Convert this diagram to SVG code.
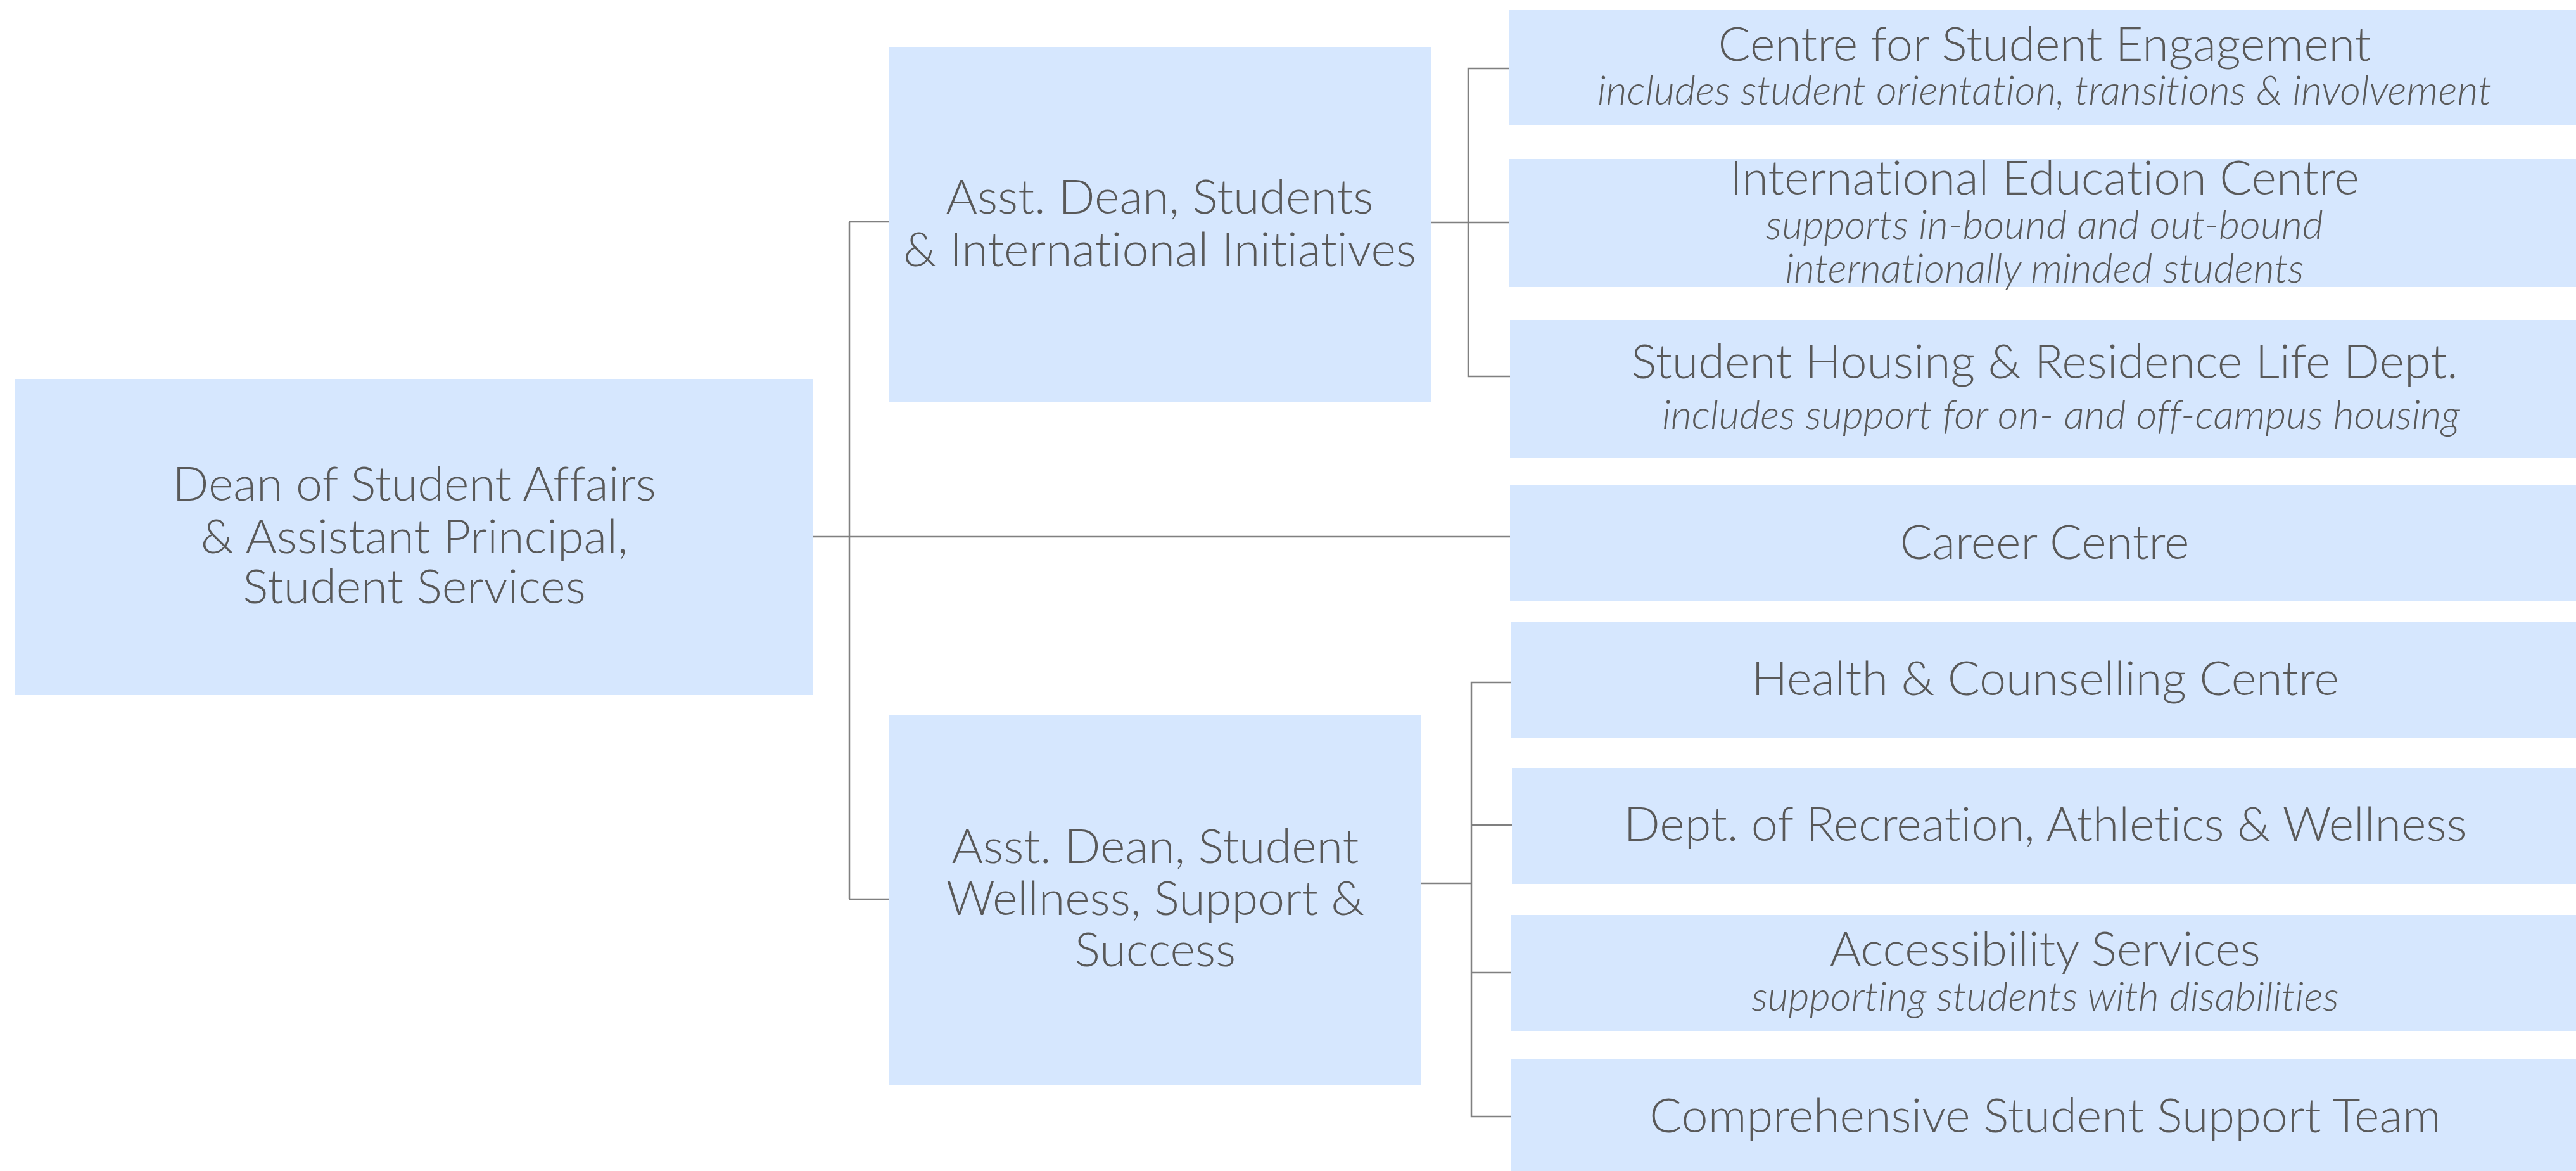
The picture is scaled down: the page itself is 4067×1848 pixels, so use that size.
<svg xmlns="http://www.w3.org/2000/svg" width="4067" height="1848" viewBox="0 0 4067 1848">
<style>
.box{fill:#d6e7fe}
.t{font-family:Lato,"Liberation Sans",sans-serif;font-weight:300;fill:#595959;text-anchor:middle;font-variant-ligatures:none}
.m{font-size:75.5px}
.s{font-size:64px;font-style:italic}
.c{stroke:#808080;stroke-width:2.5;fill:none}
</style>
<rect width="4067" height="1848" fill="#ffffff"/>
<g id="connectors">
<path class="c" d="M1283,847 H2384"/>
<path class="c" d="M1341,350 V1419"/>
<path class="c" d="M1341,350 H1404"/>
<path class="c" d="M1341,1419 H1404"/>
<path class="c" d="M2259,351 H2318"/>
<path class="c" d="M2382,108 H2318 V594 H2384"/>
<path class="c" d="M2318,351 H2382"/>
<path class="c" d="M2244,1394 H2323"/>
<path class="c" d="M2386,1077 H2323 V1762 H2386"/>
<path class="c" d="M2323,1302 H2387"/>
<path class="c" d="M2323,1535 H2386"/>
</g>
<g id="dean">
<rect class="box" x="23" y="598" width="1260" height="499"/>
<text class="t m" x="654" y="790">Dean of Student Affairs</text>
<text class="t m" x="654" y="873">&amp; Assistant Principal,</text>
<text class="t m" x="654" y="952">Student Services</text>
</g>
<g id="asst-dean-students">
<rect class="box" x="1404" y="74" width="855" height="560"/>
<text class="t m" x="1831" y="337">Asst. Dean, Students</text>
<text class="t m" x="1831" y="420">&amp; International Initiatives</text>
</g>
<g id="asst-dean-wellness">
<rect class="box" x="1404" y="1128" width="840" height="584"/>
<text class="t m" x="1824" y="1362">Asst. Dean, Student</text>
<text class="t m" x="1824" y="1444">Wellness, Support &amp;</text>
<text class="t m" x="1824" y="1525">Success</text>
</g>
<g id="cse">
<rect class="box" x="2382" y="15" width="1700" height="182"/>
<text class="t m" x="3228" y="96">Centre for Student Engagement</text>
<text class="t s" x="3228" y="165">includes student orientation, transitions &amp; involvement</text>
</g>
<g id="iec">
<rect class="box" x="2382" y="251" width="1700" height="202"/>
<text class="t m" x="3228" y="307">International Education Centre</text>
<text class="t s" x="3228" y="377">supports in-bound and out-bound</text>
<text class="t s" x="3228" y="446">internationally minded students</text>
</g>
<g id="housing">
<rect class="box" x="2384" y="505" width="1700" height="218"/>
<text class="t m" x="3228" y="597">Student Housing &amp; Residence Life Dept.</text>
<text class="t s" x="3254" y="677">includes support for on- and off-campus housing</text>
</g>
<g id="career">
<rect class="box" x="2384" y="766" width="1700" height="183"/>
<text class="t m" x="3228" y="882">Career Centre</text>
</g>
<g id="health">
<rect class="box" x="2386" y="982" width="1700" height="183"/>
<text class="t m" x="3229" y="1097">Health &amp; Counselling Centre</text>
</g>
<g id="recreation">
<rect class="box" x="2387" y="1212" width="1700" height="183"/>
<text class="t m" x="3229" y="1327">Dept. of Recreation, Athletics &amp; Wellness</text>
</g>
<g id="accessibility">
<rect class="box" x="2386" y="1444" width="1700" height="183"/>
<text class="t m" x="3229" y="1524">Accessibility Services</text>
<text class="t s" x="3229" y="1595">supporting students with disabilities</text>
</g>
<g id="csst">
<rect class="box" x="2386" y="1672" width="1700" height="190"/>
<text class="t m" x="3229" y="1787">Comprehensive Student Support Team</text>
</g>
</svg>
